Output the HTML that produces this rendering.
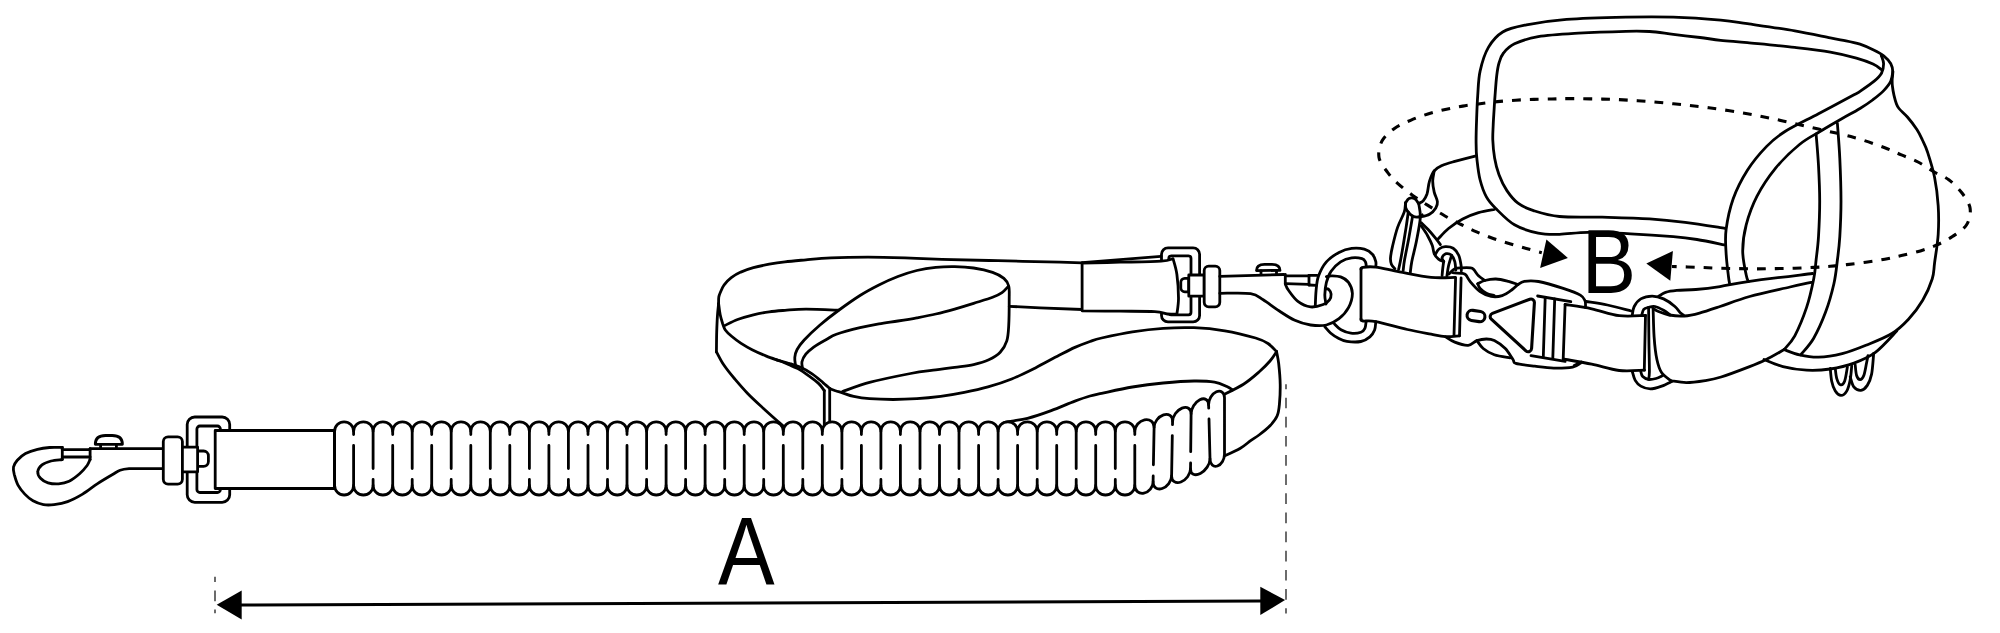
<!DOCTYPE html>
<html><head><meta charset="utf-8"><title>Leash and belt measurement diagram</title>
<style>
html,body{margin:0;padding:0;background:#fff;}
body{width:2000px;height:633px;overflow:hidden;font-family:"Liberation Sans",sans-serif;}
svg{display:block;}
svg text{font-family:"Liberation Sans",sans-serif;fill:#000;stroke:none;}
</style></head><body>
<svg width="2000" height="633" viewBox="0 0 2000 633" fill="none" stroke="#000" stroke-width="2.8" stroke-linecap="round" stroke-linejoin="round">
<rect x="0" y="0" width="2000" height="633" fill="#fff" stroke="none"/>
<path d="M62.3 447.5C60.2 447.5 53.6 447.2 49.5 447.5C45.4 447.8 41.5 448.3 37.5 449.3C33.5 450.3 28.9 451.7 25.5 453.5C22.1 455.3 19.3 458.1 17.3 460.3C15.3 462.6 14 464.6 13.5 467C13 469.4 13.6 471.5 14.3 474.5C15.1 477.5 16.2 481.8 18 485.1C19.8 488.4 22.3 491.5 24.8 494.1C27.3 496.7 29.9 499.1 33 500.8C36.1 502.6 40 504 43.5 504.6C47 505.2 50.1 505.1 54.1 504.6C58.1 504.1 62.8 503.4 67.6 501.6C72.3 499.9 77.6 497.1 82.6 494.1C87.6 491.1 92.6 486.9 97.6 483.6C102.6 480.3 108.8 476.7 112.6 474.5C116.3 472.3 117.3 471.3 120.1 470.3C122.8 469.3 124.9 469 129.1 468.7C133.2 468.4 139.3 468.6 145 468.6C150.7 468.6 160.2 468.6 163.2 468.6" fill="none"/>
<path d="M62.3 459.5C60.4 459.8 54.5 460.1 51.1 461C47.7 461.9 44.2 463.1 42 464.8C39.8 466.6 38 469.2 37.8 471.5C37.5 473.8 38.8 476.4 40.5 478.3C42.2 480.2 45 481.9 48 482.8C51 483.7 55.1 484.1 58.6 483.9C62.1 483.6 65.6 483 69.1 481.3C72.6 479.6 76.6 476.4 79.6 473.8C82.6 471.2 85.3 467.9 87.1 465.5C88.8 463.1 89.6 460.5 90.1 459.5" fill="none"/>
<path d="M62.3 447.5L62.3 459.5" fill="none"/>
<path d="M90.1 448.6L90.1 459.5" fill="none"/>
<path d="M62.3 449.6L90.1 449.6" fill="none"/>
<path d="M62.3 457L90.1 457" fill="none"/>
<path d="M90.1 448.6L163.2 448.6" fill="none"/>
<path d="M95.3 444.3C95.3 438 99.5 435.5 105.5 435.5H112.2C118.2 435.5 122.4 438 122.4 444.3Z" fill="none"/>
<path d="M100.6 444.5L100.6 447.2" fill="none"/>
<path d="M116.4 444.5L116.4 447.2" fill="none"/>
<rect x="187.2" y="417" width="42.5" height="85.3" rx="7.5" fill="#fff"/>
<rect x="196.9" y="426" width="23.5" height="66.5" rx="3" fill="#fff"/>
<rect x="163.3" y="436.8" width="19.1" height="47.3" rx="4.8" fill="#fff"/>
<path d="M197.6 451H203.6A4.8 4.8 0 0 1 208.4 455.8V461.6A4.8 4.8 0 0 1 203.6 466.4H197.6Z" fill="#fff"/>
<rect x="182.4" y="447.2" width="15.2" height="24.6" fill="#fff"/>
<rect x="215.2" y="430.5" width="119.2" height="58" fill="#fff"/>
<path d="M718.6 303.7C718.4 305.8 717.7 311.7 717.4 316.4C717.1 321.1 716.9 326.2 716.7 332.1C716.5 338.1 716.5 348.8 716.4 352.1" fill="none"/>
<path d="M716.6 352.1C717.8 354.2 720.7 360.3 723.7 364.8C726.7 369.3 730.8 374.3 734.8 379C738.8 383.7 742.7 388.3 747.4 393.2C752.1 398.1 757.9 403.3 763.2 408.2C768.5 413.1 775.2 419 779 422.4C782.8 425.8 784.8 427.5 786 428.5" fill="none"/>
<path d="M718.6 303.7C718.6 302.6 718.5 298.8 718.8 297C719.1 295.2 719.3 294.7 720.2 292.7C721.1 290.7 722.4 287.3 724.2 284.8C726.1 282.3 728.5 279.7 731.3 277.6C734.1 275.5 737.1 273.8 740.8 272.1C744.5 270.5 748.7 269 753.4 267.7C758.1 266.4 763.9 265.2 769.2 264.2C774.5 263.2 778.9 262.5 785 261.8C791.1 261.1 798.3 260.5 806 259.8C813.7 259.1 820.7 258.3 831 257.9C841.3 257.4 855.7 257.1 868 257.1C880.3 257.1 892.7 257.5 905 257.9C917.3 258.3 926.5 258.8 942 259.3C957.5 259.8 978.1 260.2 997.8 260.7C1017.5 261.2 1046 261.8 1060 262.1C1074 262.5 1078.4 262.7 1082.1 262.8" fill="none"/>
<path d="M718.6 303.7C718.9 305.6 719.5 311.5 720.2 314.8C720.9 318.1 721.8 321 722.6 323.5C723.5 326 723.8 327.9 725.3 330C726.8 332.1 729 334.1 731.6 336.3C734.2 338.5 737.7 341.2 741.1 343.4C744.5 345.6 747.9 347.6 752.1 349.7C756.3 351.8 761.4 354.1 766.4 356.1C771.4 358.1 777.9 360.2 782.1 361.8C786.3 363.4 788.6 364.7 791.6 366C794.6 367.3 797.4 368.2 800 369.7C802.6 371.2 804.3 372.5 807.4 374.8C810.5 377.1 815.7 380.8 818.5 383.4C821.3 386 823.3 389.4 824.3 390.6" fill="none"/>
<path d="M824.3 390.6L824.3 433" fill="none"/>
<path d="M829.7 388.3L829.7 431" fill="none"/>
<path d="M724.2 325.8C726.4 324.8 732.7 321.3 737.6 319.5C742.5 317.7 748.1 316.1 753.4 314.8C758.7 313.5 763.9 312.6 769.2 311.9C774.5 311.1 778.9 310.8 785 310.3C791.1 309.9 797.1 309.2 806 309.2C814.9 309.2 833 310 838.4 310.2" fill="none"/>
<path d="M795.5 365.3C795.4 364 794.5 360 794.8 357.4C795.1 354.8 795.5 352.4 797.1 349.5C798.7 346.6 800.4 344.1 804.2 340C808 335.9 814.3 329.9 820 325C825.7 320.1 831.7 315.4 838.4 310.5C845.1 305.6 853.2 299.8 860 295.5C866.8 291.2 872.6 288.2 878.9 285C885.2 281.8 891.6 278.9 897.9 276.5C904.2 274.1 910.5 272 916.8 270.5C923.1 269 929.5 268 935.8 267.4C942.1 266.8 948.4 266.6 954.7 266.7C961 266.8 967.3 267.1 973.6 268C979.9 268.9 987.6 270.6 992.6 272.3C997.6 274 1001.2 276.1 1003.9 278.4C1006.6 280.7 1007.8 282.5 1008.7 286C1009.6 289.5 1009.2 292.6 1009.2 299.2C1009.2 305.8 1009.1 318.9 1008.7 325.8C1008.3 332.8 1008.2 336.5 1006.8 340.9C1005.4 345.3 1003.2 349.1 1000.2 352.3C997.2 355.5 993.2 357.8 988.8 359.8C984.4 361.9 979.3 363.3 973.6 364.6C967.9 365.9 961 366.5 954.7 367.4C948.4 368.3 943.1 368.9 935.8 369.9C928.4 370.9 921.5 371.4 910.6 373.5C899.7 375.6 881.9 379.2 870.5 382.2C859.1 385.2 847.1 390 842.4 391.6" fill="none"/>
<path d="M802.7 369.2C802.6 368 801.4 364.6 801.9 362.1C802.4 359.6 803.8 356.7 805.8 354.2C807.8 351.7 810.3 349.6 813.7 347.1C817.1 344.7 822.6 341.6 826.4 339.5C830.2 337.4 830.8 336.3 836.4 334.3C842 332.3 852.9 329.4 860 327.7C867.1 326 872.6 325 878.9 323.9C885.2 322.8 891.6 322 897.9 321C904.2 320 910.5 319 916.8 317.8C923.1 316.6 929.5 315.4 935.8 314C942.1 312.6 948.4 310.9 954.7 309.1C961 307.3 967.3 305.4 973.6 303.4C979.9 301.4 987.9 299.1 992.6 297.3C997.3 295.5 999.4 294.4 1002 292.6C1004.6 290.8 1007.2 287.5 1008.2 286.5" fill="none"/>
<path d="M1009.2 306.3L1040 307.8L1082.1 309.5" fill="none"/>
<path d="M776 359.6C778.3 360.3 786 362.4 790 363.7C794 364.9 796.3 365.4 800 367.1C803.7 368.8 808.2 371.2 812.1 373.8C816 376.4 820.3 380.4 823.2 382.8C826.1 385.2 827.7 387 829.7 388.3C831.8 389.6 833.5 390.1 835.5 390.8C837.5 391.5 838.8 391.7 841.8 392.6C844.8 393.5 849.1 395.4 853.7 396.4C858.3 397.4 862.9 398.2 869.5 398.7C876.1 399.2 885.3 399.5 893.2 399.5C901.1 399.5 909 399.2 916.9 398.7C924.8 398.2 932.7 397.4 940.6 396.4C948.5 395.3 956.4 394 964.3 392.4C972.2 390.8 980.1 389.1 988 386.9C995.9 384.7 1003.8 382.2 1011.7 379C1019.6 375.8 1027.5 371.8 1035.4 367.9C1043.3 363.9 1052.5 358.7 1059.1 355.3C1065.7 351.9 1069.8 349.7 1074.9 347.4C1080.1 345.1 1085.5 343.1 1090 341.5C1094.5 339.9 1094.5 339.6 1101.6 338C1108.7 336.4 1122.1 333.4 1132.4 331.8C1142.7 330.2 1152.9 329 1163.2 328.3C1173.5 327.6 1183.7 327.3 1194 327.7C1204.3 328.1 1214.5 329.1 1224.8 330.8C1235.1 332.5 1248.4 335.9 1255.6 338C1262.8 340.1 1264.5 341.2 1268 343.5C1271.5 345.8 1275.2 350.2 1276.6 351.6" fill="none"/>
<path d="M1276.6 351.6C1276.9 353.6 1278.1 358.3 1278.7 363.7C1279.3 369.1 1280.1 377.6 1280.2 384.2C1280.3 390.8 1280 397.9 1279.5 403.2C1279 408.5 1278.8 412 1277.2 415.8C1275.6 419.6 1273 422.6 1270 425.8C1267 429 1262.2 432.6 1259 435C1255.8 437.4 1254.2 438.1 1251 440.3C1247.8 442.6 1244.8 445.7 1240 448.5C1235.2 451.3 1225 455.6 1222 457" fill="none"/>
<path d="M1222 395.5C1225.6 393.6 1237.3 388.1 1243.5 384.2C1249.7 380.3 1254.6 375.9 1259 372C1263.4 368.1 1267.1 364.4 1270 361C1272.9 357.6 1275.5 353.2 1276.6 351.6" fill="none"/>
<path d="M1003 423C1003.9 422.8 1004.4 422.4 1008.5 421.6C1012.6 420.8 1020.4 420.1 1027.5 418.3C1034.6 416.5 1043.3 413.5 1051.2 410.6C1059.1 407.7 1068.4 403.5 1074.9 401.1C1081.4 398.7 1085.5 397.3 1090 396C1094.5 394.7 1094.5 394.8 1101.6 393.3C1108.7 391.8 1122.1 388.7 1132.4 387C1142.7 385.3 1152.9 384 1163.2 383C1173.5 382 1185.5 381.1 1194 381C1202.5 380.9 1209 381.2 1214.5 382.1C1220 383 1223.9 385.2 1226.9 386.5C1229.9 387.8 1231.6 389.4 1232.5 390" fill="none"/>
<path d="M334.6 431.3C334.6 426.1 338.9 421.8 344.1 421.8C349.3 421.8 353.6 426.1 353.6 431.3C353.6 426.1 358 421.8 363.4 421.8C368.8 421.8 373.1 426.1 373.1 431.3C373.1 426.1 377.5 421.8 382.9 421.8C388.3 421.8 392.7 426.1 392.7 431.3C392.7 426.1 397 421.8 402.4 421.8C407.8 421.8 412.2 426.1 412.2 431.3C412.2 426.1 416.6 421.8 422 421.8C427.3 421.8 431.7 426.1 431.7 431.3C431.7 426.1 436.1 421.8 441.5 421.8C446.9 421.8 451.2 426.1 451.2 431.3C451.2 426.1 455.6 421.8 461 421.8C466.4 421.8 470.8 426.1 470.8 431.3C470.8 426.1 475.2 421.8 480.5 421.8C485.9 421.8 490.3 426.1 490.3 431.3C490.3 426.1 494.7 421.8 500.1 421.8C505.5 421.8 509.8 426.1 509.8 431.3C509.8 426.1 514.2 421.8 519.6 421.8C525 421.8 529.4 426.1 529.4 431.3C529.4 426.1 533.7 421.8 539.1 421.8C544.5 421.8 548.9 426.1 548.9 431.3C548.9 426.1 553.3 421.8 558.7 421.8C564.1 421.8 568.4 426.1 568.4 431.3C568.4 426.1 572.8 421.8 578.2 421.8C583.6 421.8 588 426.1 588 431.3C588 426.1 592.3 421.8 597.7 421.8C603.1 421.8 607.5 426.1 607.5 431.3C607.5 426.1 611.9 421.8 617.3 421.8C622.6 421.8 627 426.1 627 431.3C627 426.1 631.4 421.8 636.8 421.8C642.2 421.8 646.6 426.1 646.6 431.3C646.6 426.1 650.9 421.8 656.3 421.8C661.7 421.8 666.1 426.1 666.1 431.3C666.1 426.1 670.5 421.8 675.8 421.8C681.2 421.8 685.6 426.1 685.6 431.3C685.6 426.1 690 421.8 695.4 421.8C700.8 421.8 705.1 426.1 705.1 431.3C705.1 426.1 709.5 421.8 714.9 421.8C720.3 421.8 724.7 426.1 724.7 431.3C724.7 426.1 729 421.8 734.4 421.8C739.8 421.8 744.2 426.1 744.2 431.3C744.2 426.1 748.6 421.8 754 421.8C759.4 421.8 763.7 426.1 763.7 431.3C763.7 426.1 768.1 421.8 773.5 421.8C778.9 421.8 783.3 426.1 783.3 431.3C783.3 426.1 787.6 421.8 793 421.8C798.4 421.8 802.8 426.1 802.8 431.3C802.8 426.1 807.2 421.8 812.6 421.8C817.9 421.8 822.3 426.1 822.3 431.3C822.3 426.1 826.7 421.8 832.1 421.8C837.5 421.8 841.9 426.1 841.9 431.3C841.9 426.1 846.2 421.8 851.6 421.8C857 421.8 861.4 426.1 861.4 431.3C861.4 426.1 865.8 421.8 871.1 421.8C876.5 421.8 880.9 426.1 880.9 431.3C880.9 426.1 885.3 421.8 890.7 421.8C896.1 421.8 900.4 426.1 900.4 431.3C900.4 426.1 904.8 421.8 910.2 421.8C915.6 421.8 920 426.1 920 431.3C920 426.1 924.3 421.8 929.7 421.8C935.1 421.8 939.5 426.1 939.5 431.3C939.5 426.1 943.9 421.8 949.3 421.8C954.7 421.8 959 426.1 959 431.3C959 426.1 963.4 421.8 968.8 421.8C974.2 421.8 978.6 426.1 978.6 431.3C978.6 426.1 982.9 421.8 988.3 421.8C993.7 421.8 998.1 426.1 998.1 431.3C998.1 426.1 1002.5 421.8 1007.9 421.8C1013.2 421.8 1017.6 426.1 1017.6 431.3C1017.6 426.1 1022 421.8 1027.4 421.8C1032.8 421.8 1037.2 426.1 1037.2 431.3C1037.2 426.1 1041.5 421.8 1046.9 421.8C1052.3 421.8 1056.7 426.1 1056.7 431.3C1056.7 426.1 1061.1 421.8 1066.4 421.8C1071.8 421.8 1076.2 426.1 1076.2 431.3C1076.2 426.1 1080.6 421.8 1086 421.8C1091.4 421.8 1095.7 426.1 1095.7 431.3C1095.7 426.1 1100.1 421.8 1105.5 421.8C1110.9 421.8 1115.3 426.1 1115.3 431.3C1115.3 426.1 1119.6 421.8 1125 421.8C1130.4 421.8 1134.8 426.1 1134.8 431.3C1134.8 426.1 1139.2 420.9 1144.5 419.8C1149.9 418.7 1154.1 422.1 1154.1 427.3C1154.2 422.1 1158.4 416.5 1163.5 414.8C1168.6 413.1 1172.7 416.1 1172.6 421.3C1172.7 416.1 1176.9 410.1 1182 408.1C1187.1 406 1191.2 408.6 1191.1 413.8C1191.1 408.6 1194.9 402.3 1199.8 399.8C1204.6 397.3 1208.6 399.6 1208.6 404.8C1208.5 399.6 1212 393.7 1216.4 391.8C1220.8 389.9 1224.4 392.6 1224.5 397.8L1224.5 454C1224.6 459.2 1221.4 464.6 1217.4 466C1213.4 467.4 1210.1 464.2 1210 459C1210 464.2 1205.7 470.7 1200.3 473.5C1194.9 476.3 1190.5 474.2 1190.5 469C1190.4 474.2 1186.1 480.1 1180.9 482C1175.7 483.9 1171.5 481.2 1171.6 476C1171.5 481.2 1167.3 486.8 1162.2 488.5C1157.1 490.2 1153 487.2 1153.1 482C1153.1 487.2 1148.9 492.3 1143.9 493.2C1138.8 494.2 1134.8 490.7 1134.8 485.5C1134.8 490.7 1130.4 495 1125 495C1119.6 495 1115.3 490.7 1115.3 485.5C1115.3 490.7 1110.9 495 1105.5 495C1100.1 495 1095.7 490.7 1095.7 485.5C1095.7 490.7 1091.4 495 1086 495C1080.6 495 1076.2 490.7 1076.2 485.5C1076.2 490.7 1071.8 495 1066.4 495C1061.1 495 1056.7 490.7 1056.7 485.5C1056.7 490.7 1052.3 495 1046.9 495C1041.5 495 1037.2 490.7 1037.2 485.5C1037.2 490.7 1032.8 495 1027.4 495C1022 495 1017.6 490.7 1017.6 485.5C1017.6 490.7 1013.2 495 1007.9 495C1002.5 495 998.1 490.7 998.1 485.5C998.1 490.7 993.7 495 988.3 495C982.9 495 978.6 490.7 978.6 485.5C978.6 490.7 974.2 495 968.8 495C963.4 495 959 490.7 959 485.5C959 490.7 954.7 495 949.3 495C943.9 495 939.5 490.7 939.5 485.5C939.5 490.7 935.1 495 929.7 495C924.3 495 920 490.7 920 485.5C920 490.7 915.6 495 910.2 495C904.8 495 900.4 490.7 900.4 485.5C900.4 490.7 896.1 495 890.7 495C885.3 495 880.9 490.7 880.9 485.5C880.9 490.7 876.5 495 871.1 495C865.8 495 861.4 490.7 861.4 485.5C861.4 490.7 857 495 851.6 495C846.2 495 841.9 490.7 841.9 485.5C841.9 490.7 837.5 495 832.1 495C826.7 495 822.3 490.7 822.3 485.5C822.3 490.7 817.9 495 812.6 495C807.2 495 802.8 490.7 802.8 485.5C802.8 490.7 798.4 495 793 495C787.6 495 783.3 490.7 783.3 485.5C783.3 490.7 778.9 495 773.5 495C768.1 495 763.7 490.7 763.7 485.5C763.7 490.7 759.4 495 754 495C748.6 495 744.2 490.7 744.2 485.5C744.2 490.7 739.8 495 734.4 495C729 495 724.7 490.7 724.7 485.5C724.7 490.7 720.3 495 714.9 495C709.5 495 705.1 490.7 705.1 485.5C705.1 490.7 700.8 495 695.4 495C690 495 685.6 490.7 685.6 485.5C685.6 490.7 681.2 495 675.8 495C670.5 495 666.1 490.7 666.1 485.5C666.1 490.7 661.7 495 656.3 495C650.9 495 646.6 490.7 646.6 485.5C646.6 490.7 642.2 495 636.8 495C631.4 495 627 490.7 627 485.5C627 490.7 622.6 495 617.3 495C611.9 495 607.5 490.7 607.5 485.5C607.5 490.7 603.1 495 597.7 495C592.3 495 588 490.7 588 485.5C588 490.7 583.6 495 578.2 495C572.8 495 568.4 490.7 568.4 485.5C568.4 490.7 564.1 495 558.7 495C553.3 495 548.9 490.7 548.9 485.5C548.9 490.7 544.5 495 539.1 495C533.7 495 529.4 490.7 529.4 485.5C529.4 490.7 525 495 519.6 495C514.2 495 509.8 490.7 509.8 485.5C509.8 490.7 505.5 495 500.1 495C494.7 495 490.3 490.7 490.3 485.5C490.3 490.7 485.9 495 480.5 495C475.2 495 470.8 490.7 470.8 485.5C470.8 490.7 466.4 495 461 495C455.6 495 451.2 490.7 451.2 485.5C451.2 490.7 446.9 495 441.5 495C436.1 495 431.7 490.7 431.7 485.5C431.7 490.7 427.3 495 422 495C416.6 495 412.2 490.7 412.2 485.5C412.2 490.7 407.8 495 402.4 495C397 495 392.7 490.7 392.7 485.5C392.7 490.7 388.3 495 382.9 495C377.5 495 373.1 490.7 373.1 485.5C373.1 490.7 368.8 495 363.4 495C358 495 353.6 490.7 353.6 485.5C353.6 490.7 349.3 495 344.1 495C338.9 495 334.6 490.7 334.6 485.5Z" fill="#fff"/>
<path d="M353.6 431.3L353.6 434.6M353.6 445.5L353.6 485.5M373.1 431.3L373.1 468.5M373.1 479.5L373.1 485.5M392.7 431.3L392.7 434.6M392.7 445.5L392.7 485.5M412.2 431.3L412.2 468.5M412.2 479.5L412.2 485.5M431.7 431.3L431.7 434.6M431.7 445.5L431.7 485.5M451.2 431.3L451.2 468.5M451.2 479.5L451.2 485.5M470.8 431.3L470.8 434.6M470.8 445.5L470.8 485.5M490.3 431.3L490.3 468.5M490.3 479.5L490.3 485.5M509.8 431.3L509.8 434.6M509.8 445.5L509.8 485.5M529.4 431.3L529.4 468.5M529.4 479.5L529.4 485.5M548.9 431.3L548.9 434.6M548.9 445.5L548.9 485.5M568.4 431.3L568.4 468.5M568.4 479.5L568.4 485.5M588 431.3L588 434.6M588 445.5L588 485.5M607.5 431.3L607.5 468.5M607.5 479.5L607.5 485.5M627 431.3L627 434.6M627 445.5L627 485.5M646.6 431.3L646.6 468.5M646.6 479.5L646.6 485.5M666.1 431.3L666.1 434.6M666.1 445.5L666.1 485.5M685.6 431.3L685.6 468.5M685.6 479.5L685.6 485.5M705.1 431.3L705.1 434.6M705.1 445.5L705.1 485.5M724.7 431.3L724.7 468.5M724.7 479.5L724.7 485.5M744.2 431.3L744.2 434.6M744.2 445.5L744.2 485.5M763.7 431.3L763.7 468.5M763.7 479.5L763.7 485.5M783.3 431.3L783.3 434.6M783.3 445.5L783.3 485.5M802.8 431.3L802.8 468.5M802.8 479.5L802.8 485.5M822.3 431.3L822.3 434.6M822.3 445.5L822.3 485.5M841.9 431.3L841.9 468.5M841.9 479.5L841.9 485.5M861.4 431.3L861.4 434.6M861.4 445.5L861.4 485.5M880.9 431.3L880.9 468.5M880.9 479.5L880.9 485.5M900.4 431.3L900.4 434.6M900.4 445.5L900.4 485.5M920 431.3L920 468.5M920 479.5L920 485.5M939.5 431.3L939.5 434.6M939.5 445.5L939.5 485.5M959 431.3L959 468.5M959 479.5L959 485.5M978.6 431.3L978.6 434.6M978.6 445.5L978.6 485.5M998.1 431.3L998.1 468.5M998.1 479.5L998.1 485.5M1017.6 431.3L1017.6 434.6M1017.6 445.5L1017.6 485.5M1037.2 431.3L1037.2 468.5M1037.2 479.5L1037.2 485.5M1056.7 431.3L1056.7 434.6M1056.7 445.5L1056.7 485.5M1076.2 431.3L1076.2 468.5M1076.2 479.5L1076.2 485.5M1095.7 431.3L1095.7 434.6M1095.7 445.5L1095.7 485.5M1115.3 431.3L1115.3 468.5M1115.3 479.5L1115.3 485.5M1134.8 431.3L1134.8 434.6M1134.8 445.5L1134.8 485.5M1154.1 427.3L1153.4 464.8M1153.2 475.9L1153.1 482M1172.6 421.3L1172.5 424.6M1172.3 435.6L1171.6 476M1191.1 413.8L1190.7 451.7M1190.6 462.9L1190.5 469M1208.6 404.8L1208.7 408.1M1209 419L1210 459" fill="none"/>
<rect x="1161.5" y="247.8" width="38.1" height="74.1" rx="6.5" fill="#fff"/>
<rect x="1168.8" y="255.9" width="22.2" height="58.9" rx="2.5" fill="#fff"/>
<path d="M1082.1 262.6L1161 256.3" fill="none"/>
<path d="M1082.1 263.1C1088.4 263 1106.8 262.5 1120 262.2C1133.2 261.9 1152.3 261.7 1161.1 261.1C1169.9 260.5 1171 259.1 1173 258.7L1173 258.7C1173.7 261.3 1176 267.9 1176.9 274.5C1177.8 281.1 1178.5 291.6 1178.5 298.2C1178.5 304.8 1177.2 311.4 1176.9 314L1176.9 314C1175.3 314 1171.1 314.4 1167.4 314C1163.7 313.6 1162.7 312.1 1154.8 311.6C1146.9 311.1 1132.1 311.3 1120 311.2C1107.9 311.1 1088.4 310.9 1082.1 310.8Z" fill="#fff"/>
<path d="M1188.8 278.4H1184.8A4 4 0 0 0 1180.8 282.4V287.8A4 4 0 0 0 1184.8 291.8H1188.8Z" fill="#fff"/>
<rect x="1188.8" y="275" width="15.4" height="21.2" fill="#fff"/>
<rect x="1204.2" y="266.1" width="15.6" height="40.7" rx="4.5" fill="#fff"/>
<path d="M1375.8 266.5C1375.8 265.7 1376.3 263.6 1375.8 261.6C1375.3 259.6 1374.5 256.6 1372.6 254.5C1370.7 252.4 1367.8 250.2 1364.3 249.2C1360.8 248.2 1355.9 247.9 1351.7 248.4C1347.5 248.9 1343.2 250.2 1339 252.4C1334.8 254.7 1329.8 257.9 1326.4 261.9C1323 265.8 1320.2 271.4 1318.5 276.1C1316.8 280.8 1316.6 285.3 1316.1 290.3C1315.6 295.3 1315.4 303.4 1315.3 306" fill="none"/>
<path d="M1366.3 266.5C1366.2 265.8 1366.2 263.3 1365.5 262C1364.8 260.7 1364.3 259.4 1362 258.7C1359.7 258 1355.3 257.4 1351.7 257.9C1348.1 258.4 1344 259.7 1340.6 261.9C1337.2 264.1 1333.5 267.9 1331.1 271.3C1328.7 274.7 1327.5 278.4 1326.4 282.4C1325.4 286.3 1324.9 291.4 1324.8 295C1324.7 298.6 1325.8 302.5 1326 304" fill="none"/>
<path d="M1324.8 326.8C1325.8 327.8 1328.3 331.1 1330.5 333C1332.7 334.9 1335.3 336.6 1338 338C1340.7 339.4 1343.1 340.7 1346.9 341.3C1350.7 341.9 1357.1 342.2 1360.9 341.5C1364.7 340.8 1367.6 338.7 1369.9 336.8C1372.2 334.9 1373.6 332.5 1374.6 330C1375.6 327.5 1375.6 323 1375.8 321.6" fill="none"/>
<path d="M1334.3 323.8C1335.4 324.8 1338.2 328.2 1341 329.8C1343.8 331.4 1347.6 332.8 1350.9 333.2C1354.2 333.6 1358.6 333.1 1360.9 332.3C1363.2 331.5 1364 330.1 1364.9 328.3C1365.8 326.5 1365.9 322.7 1366.1 321.6" fill="none"/>
<path d="M1219.8 276.4L1283.7 274.5" fill="none"/>
<path d="M1285.3 274.5L1285.3 284" fill="none"/>
<path d="M1285.3 275.8L1309 275.8" fill="none"/>
<path d="M1285.5 283.6L1309 284.3" fill="none"/>
<path d="M1309 275.3L1309 285" fill="none"/>
<path d="M1309 275.3L1317 275.3" fill="none"/>
<path d="M1309 285L1316.4 285.3" fill="none"/>
<path d="M1219.8 293.3C1224.9 293.4 1243.4 292.5 1250.6 293.6C1257.8 294.7 1258.5 296.9 1263.2 299.8C1267.9 302.7 1273.7 307.4 1279 310.8C1284.3 314.2 1289.5 317.9 1294.8 320.3C1300.1 322.7 1305.3 324.2 1310.6 325C1315.9 325.8 1321.7 326.1 1326.4 325C1331.1 323.9 1335.3 321.6 1339 318.7C1342.7 315.8 1346.3 311.9 1348.5 307.7C1350.7 303.5 1352.4 297.7 1352.4 293.5C1352.4 289.3 1350.5 285.2 1348.5 282.4C1346.5 279.6 1343.5 278 1340.6 276.9C1337.7 275.8 1333.5 275.9 1331.1 275.8C1328.7 275.8 1327.2 276.5 1326.4 276.6" fill="none"/>
<path d="M1285.3 284C1285.8 285.1 1286.4 287.4 1288.5 290.3C1290.6 293.2 1294.2 298.6 1297.9 301.4C1301.6 304.2 1306.4 306.4 1310.6 306.9C1314.8 307.4 1320 305.7 1323.2 304.5C1326.4 303.3 1328.2 301.5 1329.5 299.8C1330.8 298.1 1331.2 295.9 1331.1 294.2C1331 292.5 1329.7 290.4 1328.8 289.5C1327.9 288.6 1326.1 288.8 1325.6 288.7" fill="none"/>
<path d="M1256.5 270.6C1256.5 266 1260 264.3 1264.5 264.3H1272C1276.5 264.3 1280 266 1280 270.4Z" fill="none"/>
<path d="M1261 271L1261 274.6" fill="none"/>
<path d="M1276.5 271L1276.5 274.4" fill="none"/>
<path d="M1361 320L1361 268.5" fill="none"/>
<path d="M1361 269.5C1361.3 269.1 1360.5 267.7 1363 267.3C1365.5 266.9 1369.7 266.3 1375.8 267.1C1381.9 267.9 1390.3 270.2 1399.5 271.9C1408.7 273.6 1421.9 276.5 1431.1 277.4C1440.3 278.3 1450.8 277.4 1454.8 277.4" fill="none"/>
<path d="M1361 319C1361.3 319.3 1360.5 320.6 1363 321C1365.5 321.4 1368.4 320.2 1375.8 321.6C1383.2 323 1398.2 327.4 1407.4 329.5C1416.6 331.6 1424.8 333 1431.1 334.2C1437.4 335.4 1440.6 336.3 1445.3 336.6C1450 336.9 1457.1 335.9 1459.5 335.8" fill="none"/>
<path d="M1455.6 277.4L1454 335.5" fill="none"/>
<path d="M1461.1 278L1459.5 335.8" fill="none"/>
<path d="M1476.1 155.8C1472.5 156.7 1460.5 159.8 1454.8 161.4C1449.1 163 1445.5 163.9 1442.1 165.5C1438.7 167.1 1436.3 168.2 1434.2 170.8C1432.1 173.4 1430.7 177.3 1429.5 181.1C1428.3 184.9 1428.1 190.4 1427.1 193.7C1426 197 1424.5 199.2 1423.2 200.8C1421.9 202.4 1419.9 202.8 1419.2 203.2" fill="none"/>
<path d="M1434.2 170.8C1434 172.5 1432.7 177.6 1432.7 181.1C1432.7 184.6 1433.4 188.7 1434.2 192.1C1435 195.5 1437.1 199 1437.4 201.6C1437.7 204.2 1437.1 205.8 1435.8 207.9C1434.5 210 1432.2 212.6 1429.5 214.2C1426.8 215.8 1421.2 216.7 1419.5 217.2" fill="none"/>
<path d="M1494.3 209.5C1491.7 210 1483.8 211.1 1478.5 212.7C1473.2 214.3 1467.7 216.4 1462.7 219C1457.7 221.6 1452.6 225.2 1448.5 228.5C1444.4 231.8 1440 237.1 1438.3 238.8" fill="none"/>
<path d="M1405.5 203C1406.1 202.2 1407.5 199.2 1409 198.5C1410.5 197.8 1413.2 197.9 1414.8 198.8C1416.4 199.7 1418.1 203.1 1418.8 204" fill="none"/>
<path d="M1405.5 203C1405.5 203.8 1405.3 206.4 1405.8 208C1406.3 209.6 1407.3 211.1 1408.5 212.5C1409.7 213.9 1411.3 215.6 1413 216.3C1414.7 217.1 1416.9 217.2 1418.4 217C1419.9 216.8 1421.6 215.2 1422.2 214.8" fill="none"/>
<path d="M1405.5 203C1405.3 204.5 1405.5 208.1 1404.2 212.2C1402.9 216.3 1399.5 221.7 1397.6 227.4C1395.6 233.1 1393.7 241.3 1392.5 246.4C1391.3 251.5 1390.7 255 1390.5 258C1390.3 261 1390.8 262.7 1391.5 264.5C1392.2 266.3 1394.2 268 1394.8 268.7" fill="none"/>
<path d="M1408.3 212C1407.9 214.6 1407.2 220.1 1406.1 227.4C1404.9 234.7 1402.7 248.8 1401.4 255.8C1400.2 262.8 1399.1 267.2 1398.6 269.5" fill="none"/>
<path d="M1412.6 216C1412 219.5 1410.3 229.6 1409 236.9C1407.7 244.2 1405.6 254 1404.6 259.6C1403.6 265.2 1403.4 268.5 1403.2 270.3" fill="none"/>
<path d="M1418.8 204C1419 206.3 1420.7 211.8 1420.3 217.9C1419.9 224 1417.9 233.4 1416.5 240.7C1415.1 248 1412.8 256.2 1411.8 261.5C1410.8 266.8 1410.5 270.8 1410.3 272.7" fill="none"/>
<path d="M1421.3 222.7C1422.4 223.8 1425.5 226.7 1427.9 229.3C1430.3 231.9 1433.4 235.6 1435.5 238.2C1437.6 240.8 1439.6 243.5 1440.4 244.6" fill="none"/>
<path d="M1421.3 226C1422.3 227.6 1425.7 232.2 1427.5 235.5C1429.3 238.8 1431.2 242.5 1432.3 245.5C1433.4 248.5 1433.2 251.4 1434.2 253.7C1435.2 256 1436.9 257.9 1438.5 259.2C1440.1 260.5 1442.8 261.2 1443.7 261.6" fill="none"/>
<path d="M1435.2 254.5C1435.8 253.6 1437.3 250.3 1439 249C1440.7 247.7 1442.9 246.7 1445.3 246.6C1447.7 246.5 1451 246.8 1453.2 248.2C1455.4 249.6 1457.4 252.4 1458.7 255.3C1460 258.2 1460.7 262.9 1461.1 265.5C1461.5 268.1 1461.3 270.1 1461.3 271" fill="none"/>
<path d="M1443.7 261.6C1443.4 260.9 1441.7 258.9 1442.1 257.6C1442.5 256.3 1444.5 254.1 1446.1 253.7C1447.7 253.3 1450.1 254 1451.6 255.3C1453 256.6 1454.1 259.2 1454.8 261.6C1455.5 264.1 1455.6 268.6 1455.8 270" fill="none"/>
<path d="M1443.7 261.6C1443.5 262.7 1443.1 265.7 1442.8 268C1442.5 270.3 1442.2 274.2 1442.1 275.5" fill="none"/>
<path d="M1451.6 255.3C1451.1 257.1 1449.3 262.6 1448.5 266C1447.7 269.4 1447.2 274.3 1446.9 276" fill="none"/>
<path d="M1449 274C1450 273.1 1452.6 269.7 1454.8 268.7C1457 267.7 1459.4 267.9 1462 267.8C1464.6 267.7 1468.6 267.6 1470.6 267.9C1472.5 268.2 1472.4 268.2 1473.7 269.5C1475 270.8 1476.7 274 1478.5 275.8C1480.3 277.6 1483.8 279.7 1484.8 280.5" fill="none"/>
<path d="M1452.5 272.7C1454.2 272.8 1460.5 273 1462.7 273.4C1464.9 273.8 1464.6 273.6 1465.9 275C1467.2 276.4 1468.2 279.3 1470.6 282.1C1473 284.9 1476.7 289.2 1480.1 291.6C1483.5 294 1487.4 295.7 1491.1 296.4C1494.8 297.1 1498.8 296.7 1502.2 295.6C1505.6 294.5 1509.1 291.9 1511.7 290C1514.3 288.1 1517 285.4 1518 284.5" fill="none"/>
<path d="M1477.7 283.7C1478.9 283.2 1481.8 281.3 1484.8 280.5C1487.8 279.7 1492 278.9 1495.9 279C1499.9 279.1 1504.8 280.4 1508.5 281.3C1512.2 282.2 1516.4 284 1518 284.5" fill="none"/>
<path d="M1477.7 283.7C1478.1 284.5 1478.6 286.9 1480.1 288.5C1481.5 290.1 1484 292 1486.4 293.2C1488.8 294.4 1493 295.2 1494.3 295.6" fill="none"/>
<path d="M1518 284.5C1519 284 1520.9 281.8 1524.3 281.3C1527.7 280.8 1532 280.3 1538.5 281.5C1545 282.7 1556.2 286.1 1563.2 288.4C1570.2 290.7 1576.7 293 1580.3 295.1C1583.9 297.2 1584.1 298.7 1585 300.8C1585.9 302.9 1585.4 306.4 1585.5 307.5" fill="none"/>
<path d="M1445.3 336.6C1446.9 337.5 1451 340.7 1454.8 342.1C1458.6 343.6 1464.5 345.6 1468.2 345.3C1471.9 345.1 1473.9 341.7 1476.9 340.6C1479.9 339.6 1483.5 339 1486.4 339C1489.3 339 1491.2 339 1494.3 340.6C1497.4 342.2 1502.2 345.4 1505.3 348.5C1508.4 351.6 1511.2 357 1513 359.5C1514.8 362 1512.2 362.2 1515.8 363.3C1519.4 364.4 1528.5 365.4 1534.8 366.2C1541.1 367 1547.4 368 1553.7 368.1C1560 368.2 1568.3 367.9 1572.7 367.1C1577.1 366.3 1579 363.9 1580.3 363.3" fill="none"/>
<path d="M1476.9 340.6C1478 341.9 1480.3 346.1 1483.2 348.5C1486.1 350.9 1489.8 353.2 1494.3 354.8C1498.8 356.4 1507.5 357.4 1510.1 357.9" fill="none"/>
<path d="M1491.3 319.1A3.4 3.4 0 0 1 1492.4 313.4L1529.8 299.2A3.4 3.4 0 0 1 1534.4 302.6L1531.6 348.5A3.4 3.4 0 0 1 1525.9 350.8Z" fill="none" stroke-width="3.1"/>
<rect x="1467" y="310.9" width="18" height="10.2" rx="5.1" stroke-width="3.1" transform="rotate(9 1476 316)"/>
<path d="M1537.6 296L1570.8 301.7" fill="none"/>
<path d="M1531 355.7L1565.1 361.4" fill="none"/>
<path d="M1545.2 297.5L1543.3 356.7" fill="none"/>
<path d="M1554.7 299L1552.8 358.6" fill="none"/>
<path d="M1565.1 304.5C1569.5 305.2 1582.7 306.9 1591.7 308.8C1600.7 310.7 1610.2 314.6 1619.2 315.7C1628.2 316.8 1641.1 315.5 1645.5 315.5" fill="none"/>
<path d="M1563.2 359C1568 359.9 1582.4 362.3 1591.7 364.2C1601 366.1 1610.4 369.5 1619.2 370.5C1628 371.5 1640.3 370.2 1644.5 370.2" fill="none"/>
<path d="M1565.1 304.5L1563.2 359" fill="none"/>
<path d="M1645.5 315.5L1644.3 370.2" fill="none"/>
<path d="M1586.1 301.5C1589.6 302.1 1599.9 303.4 1607.4 305C1614.9 306.6 1627.1 310 1631.1 311" fill="none"/>
<path d="M1574.2 365.5L1581.3 361.9" fill="none"/>
<path d="M1632.3 315C1632.6 313.6 1632.8 309.2 1634.2 306.5C1635.6 303.8 1637.8 300.6 1640.8 298.9C1643.8 297.2 1648.4 296.1 1652.2 296.1C1656 296.1 1659.8 297.2 1663.6 298.9C1667.4 300.6 1672.1 304.1 1674.9 306.5C1677.7 308.9 1679.2 311.7 1680.6 313.1C1682 314.5 1682.9 314.7 1683.4 315" fill="none"/>
<path d="M1641.8 315C1642.1 314.1 1642.6 310.7 1643.7 309.4C1644.8 308.1 1646.7 307.8 1648.6 307.3C1650.5 306.8 1652.5 306 1655 306.5C1657.5 307 1661.1 308.9 1663.6 310.3C1666.1 311.7 1669.1 314.2 1670.2 315" fill="none"/>
<path d="M1632.3 371.5C1632.8 373 1633.8 378 1635.2 380.4C1636.6 382.8 1638.3 384.7 1640.8 386.1C1643.3 387.5 1646.8 388.9 1650.3 388.9C1653.8 388.9 1658.1 387.4 1661.7 386.1C1665.3 384.8 1670.4 382.1 1672.1 381.3" fill="none"/>
<path d="M1640.8 371.5C1641.1 372.4 1641.4 375.3 1642.7 376.6C1644 377.9 1646.2 379.1 1648.4 379.4C1650.6 379.7 1653.6 379.1 1656 378.5C1658.4 377.9 1661.5 376.1 1662.6 375.6" fill="none"/>
<path d="M1648.6 307.3C1648.6 312.8 1648.8 329.2 1648.9 340C1649 350.8 1649.5 365.4 1649.4 372C1649.3 378.6 1648.6 378.2 1648.4 379.4" fill="none"/>
<path d="M1653.1 308.4C1653.3 313.1 1653.5 328.3 1654.1 336.8C1654.7 345.3 1655.6 353.5 1656.9 359.5C1658.2 365.5 1659.3 369.2 1661.7 372.8C1664.1 376.4 1669.5 379.5 1671.1 380.8" fill="none"/>
<path d="M1653.1 308.4C1653.9 308.9 1655.2 310.2 1657.9 311.3C1660.6 312.4 1664.8 314.2 1669.2 315C1673.6 315.8 1679.4 316.3 1684.4 316C1689.5 315.7 1693.6 314.7 1699.5 313.1C1705.4 311.5 1711.7 309.3 1720 306.5C1728.3 303.7 1737.9 299.8 1749.6 296.5C1761.3 293.2 1779.7 289.4 1790 287C1800.3 284.6 1807.8 283.1 1811.4 282.3" fill="none"/>
<path d="M1658.8 296.1C1659.9 295.5 1662.5 293.2 1665.5 292.3C1668.5 291.4 1671.8 290.9 1676.8 290.4C1681.8 289.9 1688.6 290.1 1695.8 289.5C1703 288.9 1711 288 1720 286.6C1729 285.2 1734.2 283.5 1749.6 281.3C1765 279.1 1802 274.8 1812.5 273.5" fill="none"/>
<path d="M1671.1 380.8C1673.6 381.1 1680.6 382.6 1686.3 382.6C1692 382.6 1699.4 381.5 1705.2 380.6C1711 379.7 1713.7 379.3 1721.1 377C1728.5 374.7 1742.1 369.5 1749.6 366.6C1757.1 363.7 1760.5 362.3 1766.2 359.5C1772 356.7 1781.1 351.2 1784.1 349.6" fill="none"/>
<path d="M1724.2 244.9C1719.7 244 1705.5 240.9 1697 239.5C1688.5 238.1 1684.4 237.5 1673.3 236.6C1662.2 235.7 1644.8 234.5 1630.6 233.8C1616.4 233.1 1599.8 232.3 1588 232.4C1576.2 232.5 1567.8 234.2 1559.5 234.3C1551.2 234.4 1545.7 234.7 1538.2 233.1C1530.7 231.5 1521.6 229 1514.5 224.8C1507.4 220.7 1500.2 212.8 1495.5 208.2C1490.8 203.5 1489 201.7 1486.4 196.9C1483.8 192.1 1481.6 185.8 1480 179.5C1478.4 173.2 1477.6 165.1 1476.9 159C1476.2 152.9 1476.1 149.8 1476.1 143.2C1476 136.6 1476.3 127.4 1476.6 119.5C1476.9 111.6 1477.1 103.9 1477.7 95.8C1478.3 87.7 1478.3 79.2 1480.1 71.1C1481.9 63 1484.6 53.9 1488.4 47.4C1492.2 40.9 1496.4 35.8 1502.7 32C1509 28.2 1515.8 27 1526.4 24.9C1537.1 22.8 1550 20.7 1566.6 19.4C1583.2 18.1 1608.1 17.5 1625.9 17.1C1643.7 16.7 1657.5 16.6 1673.3 17.1C1689.1 17.6 1708.3 19 1720.7 20.1C1733.1 21.2 1735.1 21.9 1747.4 23.7C1759.8 25.5 1781 28.4 1794.8 30.8C1808.6 33.2 1821.8 36.2 1830.3 37.9C1838.8 39.6 1841 39.8 1846 40.8C1851 41.8 1855.6 42.8 1860 44.2C1864.4 45.7 1868.6 47.6 1872.6 49.5C1876.5 51.4 1880.7 53.4 1883.7 55.8C1886.7 58.2 1889.3 61.1 1890.8 63.7C1892.3 66.3 1892.6 69 1892.8 71.6C1893 74.1 1892.3 76.6 1892.2 79C1892.1 81.4 1892.1 83.3 1892.4 86C1892.7 88.7 1893.3 92.4 1894 95.3C1894.7 98.2 1895.5 101.3 1896.3 103.5C1897.1 105.7 1897.2 106.2 1899 108.5C1900.8 110.8 1904.4 113.5 1907.4 117C1910.4 120.5 1914.4 125.7 1916.9 129.5C1919.4 133.3 1920.6 136.2 1922.4 140C1924.2 143.8 1925.5 145.8 1927.5 152C1929.5 158.2 1932.8 168.4 1934.6 177.4C1936.4 186.4 1937.6 196.3 1938.2 205.8C1938.8 215.3 1938.8 224.8 1938.2 234.3C1937.6 243.8 1935.6 255.2 1934.6 262.7C1933.6 270.1 1934.2 272.7 1932.2 279C1930.2 285.3 1926.7 293.6 1922.7 300.3C1918.8 307 1913.6 313.7 1908.5 319.2C1903.4 324.7 1899 329.1 1891.9 333.5C1884.8 337.9 1874.2 341.9 1865.9 345.3C1857.6 348.7 1850.1 351.6 1842.2 353.6C1834.3 355.6 1825.6 357 1818.5 357.2C1811.4 357.4 1805.2 356.1 1799.5 354.8C1793.8 353.5 1786.7 350.5 1784.1 349.6" fill="none"/>
<path d="M1725 228.3C1718.3 227.3 1697.7 224 1685.1 222.4C1672.5 220.8 1663.4 219.8 1649.6 218.9C1635.8 218 1617.2 217.6 1602.2 217.2C1587.2 216.8 1571 217.6 1559.5 216.5C1548 215.4 1540.4 212.8 1533.5 210.6C1526.6 208.4 1522.4 206.5 1518 203.2C1513.6 199.9 1510.1 195.3 1506.9 190.6C1503.7 185.9 1501 180.2 1499 174.8C1497 169.4 1495.6 163.8 1494.6 158C1493.6 152.2 1493 145.5 1492.8 140C1492.6 134.5 1493 130.3 1493.2 125C1493.4 119.7 1493.9 113.5 1494.2 108C1494.5 102.5 1494.9 97.5 1495.3 92C1495.7 86.5 1496.2 79.8 1496.8 75C1497.4 70.2 1497.9 66.7 1499 63C1500.1 59.3 1500.9 56.2 1503.5 53C1506.1 49.8 1508.7 46.5 1514.5 43.8C1520.3 41.1 1527.5 38.5 1538.2 36.7C1548.9 34.9 1563.9 34.1 1578.5 33.2C1593.1 32.3 1614.1 31.6 1625.9 31.3C1637.8 31 1641.7 31 1649.6 31.5C1657.5 32 1664.9 33.4 1673.3 34.4C1681.7 35.4 1692.1 36.5 1700 37.5C1707.9 38.5 1712.8 39.4 1720.7 40.3C1728.6 41.2 1735.1 41.5 1747.4 42.7C1759.8 43.9 1781 45.8 1794.8 47.4C1808.6 49 1820 50.3 1830.3 52.1C1840.6 53.9 1849.3 56.1 1856.4 58.1C1863.5 60.1 1868.7 62 1873 64C1877.3 66 1880.5 69 1882 70" fill="none"/>
<path d="M1881.3 55.5C1881.7 56.9 1883.6 60.8 1883.6 63.7C1883.6 66.7 1883.1 70.3 1881.5 73.2C1879.9 76.1 1877.8 78.1 1874.2 81.1C1870.6 84.1 1863.4 89 1860 91.3C1856.6 93.6 1860.9 91.1 1854 94.8C1847.1 98.5 1830 107.6 1818.5 113.7C1807 119.8 1793.7 126 1785 131.5C1776.3 137 1772.7 140.1 1766.4 146.6C1760.1 153.1 1752.9 161.6 1747.4 170.3C1741.9 179 1736.8 188.8 1733.2 198.7C1729.7 208.6 1727.3 220.4 1726.1 229.5C1724.9 238.6 1725.7 245.4 1726.1 253.2C1726.5 260.9 1727.8 270.9 1728.4 276C1729 281.1 1729.4 282.4 1729.6 283.7" fill="none"/>
<path d="M1892.8 71.6C1892.5 73.2 1892.3 77.9 1890.8 81.1C1889.3 84.3 1886.7 87.4 1883.7 90.6C1880.7 93.8 1876.5 97 1872.6 100C1868.6 103 1865.1 105.4 1860 108.5C1854.9 111.6 1848.9 114.7 1842.2 118.5C1835.5 122.3 1827.1 127.2 1820 131.5C1812.9 135.8 1806.9 138.4 1799.5 144.5C1792.1 150.6 1782.9 159.2 1775.8 167.9C1768.7 176.6 1761.8 186.9 1756.9 196.4C1752 205.9 1748.6 215.7 1746.2 224.8C1743.8 233.9 1742.7 242.5 1742.7 250.9C1742.7 259.3 1745.2 269.9 1746.2 275C1747.2 280.1 1748 280.4 1748.4 281.5" fill="none"/>
<path d="M1816.1 134C1816.5 139.2 1817.9 154.3 1818.5 165.5C1819.1 176.7 1819.7 189.2 1819.7 201.1C1819.7 212.9 1819.1 226.8 1818.5 236.6C1817.9 246.4 1816.9 252.9 1816.1 260C1815.3 267.1 1815.3 271.1 1813.7 279C1812.1 286.9 1809.8 297.9 1806.6 307.4C1803.4 316.9 1798.5 328.8 1794.8 335.8C1791 342.8 1785.9 347.3 1784.1 349.6" fill="none"/>
<path d="M1837.4 123.5C1837.8 129.3 1839.2 145.5 1839.8 158.4C1840.4 171.3 1841 188.1 1841 201.1C1841 214.1 1840.4 226.8 1839.8 236.6C1839.2 246.4 1838.4 252.2 1837.4 260C1836.4 267.9 1835.9 275 1833.9 283.7C1831.9 292.4 1829 303 1825.6 312.1C1822.2 321.2 1817.8 331.1 1813.7 338.2C1809.6 345.3 1802.9 352 1800.7 354.8" fill="none"/>
<path d="M1764 359.5C1767.2 360.7 1775.8 364.8 1782.9 366.6C1790 368.4 1798.7 369.8 1806.6 370.2C1814.5 370.6 1822.4 370.2 1830.3 369C1838.2 367.8 1846.5 365.9 1854 363.1C1861.5 360.3 1868.3 357.7 1875.4 352.4C1882.5 347.1 1893.2 334.7 1896.7 331.1" fill="none"/>
<path d="M1830.3 368.5C1830.5 370.6 1830.9 377.4 1831.7 381.2C1832.5 385 1833.8 388.7 1835.3 391.1C1836.8 393.5 1839.1 395.4 1841 395.4C1842.9 395.4 1845.2 393.7 1846.7 391.1C1848.2 388.5 1849.4 383.9 1850.2 379.7C1851 375.5 1851.5 368.3 1851.7 366" fill="none"/>
<path d="M1835.3 368.8C1835.5 370.4 1835.9 375.7 1836.7 378.3C1837.5 380.9 1839 384.2 1840.3 384.7C1841.6 385.2 1843.4 384.1 1844.6 381.2C1845.8 378.2 1846.9 369.4 1847.4 367" fill="none"/>
<path d="M1850.2 376.9C1850.8 378.6 1852 384.6 1853.8 386.9C1855.6 389.1 1858.7 390.6 1860.9 390.4C1863.2 390.1 1865.5 388.1 1867.3 385.4C1869.1 382.7 1870.5 379.4 1871.6 374.1C1872.7 368.8 1873.3 356.8 1873.7 353.4" fill="none"/>
<path d="M1855.2 364.8C1855.4 366.6 1855.8 373 1856.6 375.5C1857.4 378 1859 379.7 1860.2 379.7C1861.4 379.7 1862.7 378.3 1863.8 375.5C1864.9 372.7 1865.9 366 1866.6 362.7C1867.3 359.4 1867.8 356.8 1868 355.6" fill="none"/>
<path d="M1541.8 252.7C1539.2 252 1531.7 250 1526.4 248.5C1521.1 247 1515.3 245.4 1509.8 243.7C1504.3 242 1498.7 240.5 1493.2 238.5C1487.7 236.5 1481.9 234.2 1476.6 231.9C1471.2 229.6 1466.4 227.2 1461.1 224.5C1455.8 221.8 1450.5 219.2 1445 216C1439.5 212.8 1433.3 208.8 1427.9 205.4C1422.5 202 1417.8 199.1 1412.7 195.4C1407.7 191.7 1401.8 187.1 1397.6 183.3C1393.4 179.5 1390.7 176.7 1387.6 172.4C1384.5 168.1 1379.9 162.7 1379 157.4C1378.1 152.1 1379.5 145.7 1382.1 140.8C1384.7 135.9 1390 131.6 1394.8 128.2C1399.5 124.8 1405.1 122.7 1410.6 120.3C1416.1 117.9 1422.1 115.8 1427.9 114C1433.7 112.2 1439.5 110.8 1445.3 109.5C1451.1 108.2 1456.9 107.1 1462.7 106.1C1468.5 105.1 1474.3 104.5 1480.1 103.7C1485.9 103 1491.5 102.2 1497.4 101.6C1503.3 101 1509.5 100.6 1515.6 100.2C1521.7 99.8 1527.8 99.6 1533.8 99.4C1539.8 99.2 1546.4 99.1 1551.9 99C1557.4 98.9 1558.2 98.6 1566.6 98.6C1575 98.6 1590.3 98.8 1602.2 99.1C1614.1 99.4 1625.9 99.9 1637.7 100.7C1649.5 101.5 1661.5 102.6 1673.3 103.8C1685.1 105 1696.4 106.1 1708.8 107.8C1721.2 109.5 1735.1 111.5 1747.4 113.7C1759.8 115.9 1771.1 118.3 1782.9 120.9C1794.8 123.5 1806.7 126.3 1818.5 129.1C1830.3 131.8 1843 134.3 1854 137.4C1865 140.5 1876.9 144.9 1884.8 147.8C1892.7 150.7 1895.9 152.5 1901.4 154.9C1906.9 157.3 1912.7 159.2 1918 162C1923.3 164.8 1928.3 168.5 1933.4 171.5C1938.5 174.5 1944.1 176.2 1948.8 179.8C1953.5 183.4 1958.2 188.1 1961.8 192.8C1965.3 197.5 1969.3 202.9 1970.1 208.2C1970.9 213.5 1969.5 220.1 1966.6 224.8C1963.6 229.5 1957.3 233.2 1952.4 236.6C1947.5 239.9 1942.3 242.5 1937 244.9C1931.7 247.3 1926.3 249.1 1920.4 250.9C1914.5 252.7 1907.3 254.2 1901.4 255.6C1895.5 257 1890.7 258.1 1884.8 259.2C1878.9 260.3 1872.2 261.3 1865.9 262.2C1859.6 263.1 1852.8 263.9 1846.9 264.6C1841 265.3 1835.8 265.8 1830.3 266.3C1824.8 266.8 1819.6 267.1 1813.7 267.4C1807.8 267.7 1801.1 268 1794.8 268.2C1788.5 268.4 1782.1 268.5 1775.8 268.6C1769.5 268.7 1763.2 268.9 1756.9 268.9C1750.6 268.9 1744.2 268.7 1737.9 268.6C1731.6 268.5 1725.3 268.4 1719 268.2C1712.7 268 1707.8 267.7 1700 267.4C1692.2 267.1 1676.7 266.6 1672 266.5" fill="none" stroke-width="3.1" stroke-dasharray="8.8 9.021" stroke-dashoffset="6" stroke-linecap="butt"/>
<path d="M1567.9 257.9L1546.4 239.6L1540.1 268Z" fill="#000" stroke="none"/>
<path d="M1646.3 263.6L1672.9 251L1670.3 280.7Z" fill="#000" stroke="none"/>
<text id="tB" x="1609" y="293.1" font-size="90" text-anchor="middle" transform="translate(1609 0) scale(0.905 1) translate(-1609 0)">B</text>
<text id="tA" x="746.3" y="584.3" font-size="96" text-anchor="middle" transform="translate(746.3 0) scale(0.885 1) translate(-746.3 0)">A</text>
<path d="M241 605L1261 600.9" stroke-width="3" stroke-linecap="butt"/>
<path d="M216.7 604.8L241.7 590.6L241.7 619.4Z" fill="#000" stroke="none"/>
<path d="M1285.1 600.1L1260.3 586.7L1260.3 615.1Z" fill="#000" stroke="none"/>
<path d="M215 576.7V613.3" stroke="#000" stroke-width="1.15" stroke-linecap="butt" stroke-dasharray="10.7 8.44" stroke-dashoffset="5.4"/>
<path d="M1286 384.2V613.6" stroke="#000" stroke-width="1.15" stroke-linecap="butt" stroke-dasharray="10.7 8.44" stroke-dashoffset="5.7"/>
</svg>
</body></html>
